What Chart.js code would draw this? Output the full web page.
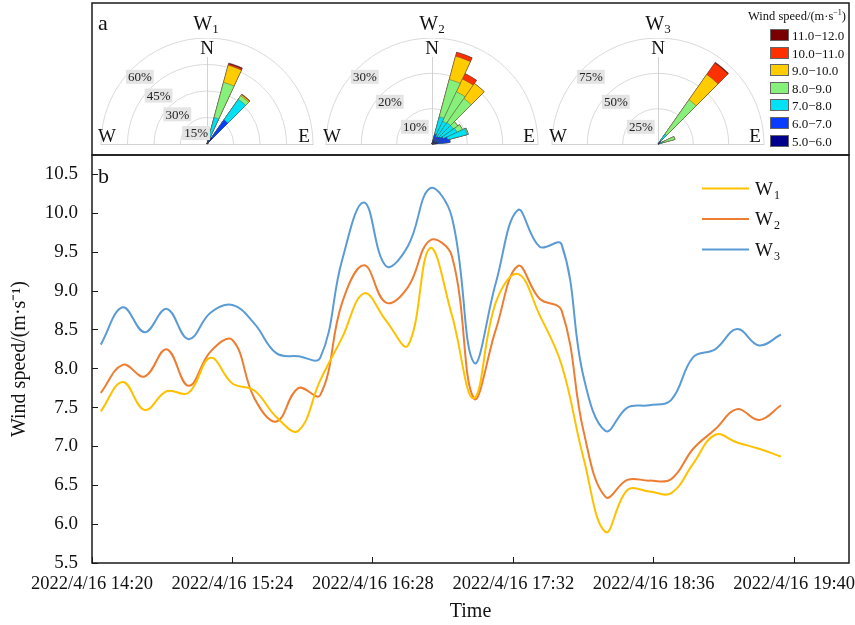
<!DOCTYPE html>
<html>
<head>
<meta charset="utf-8">
<script src="https://cdn.jsdelivr.net/npm/chart.js@4.4.1/dist/chart.umd.min.js"></script>
<style>
  body { margin: 0; background: #fff; }
  #wrap { position: relative; width: 855px; height: 625px; overflow: hidden; font-family: "Liberation Serif", "Times New Roman", serif; color: #111; }
  #lineChart { position: absolute; left: 0; top: 0; }
  .rose { position: absolute; top: 38px; }
  .rose-title { position: absolute; top: 13px; font-size: 20px; line-height: 1; transform: translateX(-50%); }
  .rose-title sub, .panel sub { font-size: 13px; vertical-align: -3px; }
  .panel { position: absolute; font-size: 22px; line-height: 1; }
  #speedLegend { position: absolute; left: 738px; top: 8px; width: 112px; }
  #speedLegend .lg-title { font-size: 12.5px; text-align: right; padding-right: 4px; white-space: nowrap; }
  #speedLegend sup { font-size: 8px; }
  .lg-item { position: absolute; left: 32px; height: 14px; font-size: 13px; line-height: 14px; white-space: nowrap; }
  .lg-item span { display: inline-block; width: 19px; height: 12px; margin-right: 3px; vertical-align: -1px; border: 1px solid #666; box-sizing: border-box; }
</style>
</head>
<body>
<div id="wrap">
  <canvas id="lineChart" width="855" height="625"></canvas>
  <canvas id="rose1" class="rose" width="232" height="212" style="left:91px"></canvas>
  <canvas id="rose2" class="rose" width="232" height="212" style="left:316px"></canvas>
  <canvas id="rose3" class="rose" width="232" height="212" style="left:542px"></canvas>
  <div class="rose-title" style="left:206px">W<sub>1</sub></div>
  <div class="rose-title" style="left:432px">W<sub>2</sub></div>
  <div class="rose-title" style="left:658px">W<sub>3</sub></div>
  <div class="panel" style="left:98px; top:12px">a</div>
  <div class="panel" style="left:98px; top:165px">b</div>
  <div id="speedLegend">
    <div class="lg-title">Wind speed/(m·s<sup>−1</sup>)</div>
  </div>
</div>
<script>
// time series (10-min steps)
const times = ['14:24','14:34','14:44','14:54','15:04','15:14','15:24','15:34','15:44','15:54',
  '16:04','16:14','16:24','16:34','16:44','16:54','17:04','17:14','17:24','17:34',
  '17:44','17:54','18:04','18:14','18:24','18:34','18:44','18:54','19:04','19:14','19:24','19:34'];
const w1Speed = [7.45, 7.83, 7.47, 7.71, 7.69, 8.14, 7.81, 7.72, 7.38, 7.20,
  7.85, 8.40, 8.97, 8.62, 8.30, 9.55, 8.69, 7.62, 8.85, 9.22,
  8.69, 8.05, 6.85, 5.90, 6.44, 6.42, 6.40, 6.78, 7.15, 7.05, 6.97, 6.87];
const w2Speed = [7.69, 8.05, 7.90, 8.25, 7.78, 8.22, 8.37, 7.62, 7.32, 7.75,
  7.66, 8.85, 9.33, 8.85, 9.05, 9.65, 9.45, 7.62, 8.50, 9.32,
  8.90, 8.75, 7.20, 6.35, 6.57, 6.56, 6.58, 6.97, 7.22, 7.48, 7.34, 7.53];
const w3Speed = [8.31, 8.79, 8.47, 8.77, 8.38, 8.72, 8.82, 8.58, 8.20, 8.16,
  8.14, 9.40, 10.14, 9.32, 9.58, 10.32, 9.95, 8.08, 9.10, 10.04,
  9.57, 9.60, 7.90, 7.20, 7.50, 7.53, 7.60, 8.15, 8.25, 8.51, 8.30, 8.44];
const seriesNames = ['W1', 'W2', 'W3'];
const seriesColors = ['#FFC000', '#ED7D31', '#5B9BD5'];
const xTickMinutes = [0, 64, 128, 192, 256, 320];
const xTickLabels = ['2022/4/16 14:20', '2022/4/16 15:24', '2022/4/16 16:28',
  '2022/4/16 17:32', '2022/4/16 18:36', '2022/4/16 19:40'];
const yTicks = [5.5, 6.0, 6.5, 7.0, 7.5, 8.0, 8.5, 9.0, 9.5, 10.0, 10.5];

// wind roses: rows = speed bins (low -> high), columns = roseDirs, values in %
const speedBins = ['5.0−6.0', '6.0−7.0', '7.0−8.0', '8.0−9.0', '9.0−10.0', '10.0−11.0', '11.0−12.0'];
const binColors = ['#00008f', '#0a3cff', '#00e1f5', '#86f07a', '#ffcc00', '#ff3000', '#7a0000'];
const roseDirs = [20, 30, 40, 50, 60, 70, 80];
const w1Rose = [
  [1.1, 1.0, 4.4, 1.0, 0, 0, 0],
  [1.1, 0, 12.3, 0, 0, 0, 0],
  [13.4, 0, 14.2, 0, 0, 0, 0],
  [20.5, 0, 2.4, 0, 0, 0, 0],
  [10.0, 0, 0.7, 0, 0, 0, 0],
  [0.8, 0, 0.4, 0, 0, 0, 0],
  [0.6, 0, 0, 0, 0, 0, 0]
];
const w2Rose = [
  [1.1, 0.9, 0.9, 0.9, 0.9, 1.4, 1.7],
  [1.8, 1.4, 1.7, 2.0, 2.6, 3.2, 3.4],
  [5.1, 4.8, 4.8, 4.5, 4.3, 5.7, 0],
  [10.9, 9.2, 8.3, 1.5, 1.7, 0.3, 0],
  [6.8, 4.0, 5.2, 0, 0, 0, 0],
  [1.2, 1.7, 0, 0, 0, 0, 0],
  [0, 0, 0, 0, 0, 0, 0]
];
const w3Rose = [
  [0, 0, 1.4, 1.0, 0, 0.5, 0],
  [0, 0, 1.5, 0.5, 0, 0.5, 0],
  [0, 0, 5.7, 0, 0, 3.3, 0],
  [0, 0, 29.6, 0, 0, 8.1, 0],
  [0, 0, 21.8, 0, 0, 0, 0],
  [0, 0, 10.0, 0, 0, 0, 0],
  [0, 0, 0.7, 0, 0, 0, 0]
];

const serif = '"Liberation Serif", "Times New Roman", serif';

function toMinutes(t) {
  const [h, m] = t.split(':').map(Number);
  return h * 60 + m - (14 * 60 + 20);
}

// speed legend (high bin first)
const legendBox = document.getElementById('speedLegend');
for (let i = speedBins.length - 1; i >= 0; i--) {
  const row = document.createElement('div');
  row.className = 'lg-item';
  row.style.top = (21 + (speedBins.length - 1 - i) * 17.6) + 'px';
  const sw = document.createElement('span');
  sw.style.background = binColors[i];
  row.appendChild(sw);
  row.appendChild(document.createTextNode(speedBins[i]));
  legendBox.appendChild(row);
}

// box around both panels
const framePlugin = {
  id: 'frame',
  afterDraw(chart) {
    const { ctx, chartArea: a } = chart;
    ctx.save();
    ctx.strokeStyle = '#1a1a1a';
    ctx.lineWidth = 1.5;
    ctx.strokeRect(a.left, a.top, a.right - a.left, a.bottom - a.top);
    ctx.strokeRect(a.left, 3, a.right - a.left, a.top - 3);
    ctx.restore();
  }
};

// legend with subscripts inside the plot
const lineLegend = {
  id: 'lineLegend',
  afterDraw(chart) {
    const ctx = chart.ctx;
    ctx.save();
    chart.data.datasets.forEach((ds, i) => {
      const y = 188.5 + i * 30.5;
      ctx.strokeStyle = ds.borderColor;
      ctx.lineWidth = 2;
      ctx.beginPath();
      ctx.moveTo(702, y);
      ctx.lineTo(749, y);
      ctx.stroke();
      ctx.fillStyle = '#111';
      ctx.textBaseline = 'alphabetic';
      ctx.font = '19px ' + serif;
      ctx.fillText(ds.label.slice(0, 1), 755, y + 6);
      const w = ctx.measureText(ds.label.slice(0, 1)).width;
      ctx.font = '12px ' + serif;
      ctx.fillText(ds.label.slice(1), 755 + w + 1, y + 10);
    });
    ctx.restore();
  }
};

new Chart(document.getElementById('lineChart'), {
  type: 'line',
  data: {
    datasets: [w1Speed, w2Speed, w3Speed].map((vals, i) => ({
      label: seriesNames[i],
      data: times.map((t, k) => ({ x: toMinutes(t), y: vals[k] })),
      borderColor: seriesColors[i],
      borderWidth: 2,
      pointRadius: 0,
      tension: 0.4,
      fill: false
    }))
  },
  options: {
    responsive: false,
    animation: false,
    layout: { padding: { top: 155, right: 6, left: 0, bottom: 0 } },
    plugins: { legend: { display: false }, tooltip: { enabled: false } },
    scales: {
      x: {
        type: 'linear',
        min: 0,
        max: 345,
        afterBuildTicks: s => { s.ticks = xTickMinutes.map(v => ({ value: v })); },
        afterFit: s => { s.height = 62; s.paddingLeft = 0; s.paddingRight = 0; },
        ticks: {
          callback: (v, i) => xTickLabels[i],
          autoSkip: false, maxRotation: 0, padding: 16,
          color: '#111', font: { family: serif, size: 18.5 }
        },
        grid: { drawOnChartArea: false, tickLength: -6, color: '#1a1a1a', lineWidth: 1 },
        border: { display: false },
        title: { display: true, text: 'Time', color: '#111', font: { family: serif, size: 20 }, padding: { top: 0, bottom: 1 } }
      },
      y: {
        min: 5.5,
        max: 10.75,
        afterBuildTicks: s => { s.ticks = yTicks.map(v => ({ value: v })); },
        afterFit: s => { s.width = 92; },
        ticks: {
          callback: v => v.toFixed(1),
          padding: 20,
          color: '#111', font: { family: serif, size: 19 }
        },
        grid: { drawOnChartArea: false, tickLength: -6, color: '#1a1a1a', lineWidth: 1 },
        border: { display: false },
        title: { display: true, text: 'Wind speed/(m\u00B7s\u207B\u00B9)', color: '#111', font: { family: serif, size: 20 }, padding: { top: 8, bottom: 0 } }
      }
    }
  },
  plugins: [framePlugin, lineLegend]
});

// half wind rose decorations: clip lower half, axes lines, N/W/E and % labels
const roseDecor = {
  id: 'roseDecor',
  beforeDraw(chart) {
    const r = chart.scales.r;
    const ctx = chart.ctx;
    ctx.save();
    ctx.beginPath();
    ctx.rect(0, 0, chart.width, r.yCenter + 1);
    ctx.clip();
  },
  beforeDatasetsDraw(chart) {
    const r = chart.scales.r;
    const ctx = chart.ctx;
    const cx = r.xCenter, cy = r.yCenter, R = r.drawingArea;
    ctx.save();
    ctx.strokeStyle = '#c8c8c8';
    ctx.lineWidth = 0.8;
    ctx.beginPath();
    ctx.moveTo(cx - R, cy + 0.5);
    ctx.lineTo(cx + R, cy + 0.5);
    ctx.moveTo(cx + 0.5, cy);
    ctx.lineTo(cx + 0.5, cy - R + 19);
    ctx.stroke();
    ctx.restore();
  },
  afterDraw(chart) {
    const ctx = chart.ctx;
    ctx.restore();
    const r = chart.scales.r;
    const cx = r.xCenter, cy = r.yCenter;
    ctx.save();
    ctx.textAlign = 'center';
    ctx.textBaseline = 'middle';
    ctx.font = '13px ' + serif;
    r.ticks.forEach(t => {
      if (!t.value) return;
      const d = r.getDistanceFromCenterForValue(t.value) - 11;
      const x = cx - d * Math.SQRT1_2;
      const y = cy - d * Math.SQRT1_2;
      const txt = t.value + '%';
      const w = ctx.measureText(txt).width;
      ctx.fillStyle = '#e4e4e4';
      ctx.fillRect(x - w / 2 - 2, y - 7, w + 4, 14);
      ctx.fillStyle = '#222';
      ctx.fillText(txt, x, y + 1);
    });
    ctx.font = '19px ' + serif;
    ctx.fillStyle = '#111';
    ctx.fillText('N', cx, cy - 95);
    ctx.fillText('W', cx - 100, cy - 7);
    ctx.fillText('E', cx + 97, cy - 7);
    ctx.restore();
  }
};

function makeRose(id, rose, maxPct, stepPct) {
  const sectors = Array.from({ length: 36 }, (_, k) => k * 10);
  const datasets = rose.map((row, b) => {
    const data = sectors.map(() => 0);
    roseDirs.forEach((dir, j) => {
      let cum = 0;
      for (let i = 0; i <= b; i++) cum += rose[i][j];
      data[dir / 10] = cum;
    });
    return {
      label: speedBins[b],
      data: data,
      backgroundColor: binColors[b],
      borderColor: 'rgba(70,70,70,0.8)',
      borderWidth: c => (c.raw > 0 ? 0.5 : 0)
    };
  });
  return new Chart(document.getElementById(id), {
    type: 'polarArea',
    data: { labels: sectors, datasets: datasets },
    options: {
      responsive: false,
      animation: false,
      layout: { padding: 0 },
      plugins: { legend: { display: false }, tooltip: { enabled: false } },
      scales: {
        r: {
          min: 0,
          max: maxPct,
          startAngle: -5,
          ticks: { display: false, stepSize: stepPct },
          grid: { circular: true, color: '#d0d0d0', lineWidth: 0.8 },
          angleLines: { display: false },
          pointLabels: { display: false }
        }
      }
    },
    plugins: [roseDecor]
  });
}

makeRose('rose1', w1Rose, 60, 15);
makeRose('rose2', w2Rose, 30, 10);
makeRose('rose3', w3Rose, 75, 25);
</script>
</body>
</html>
